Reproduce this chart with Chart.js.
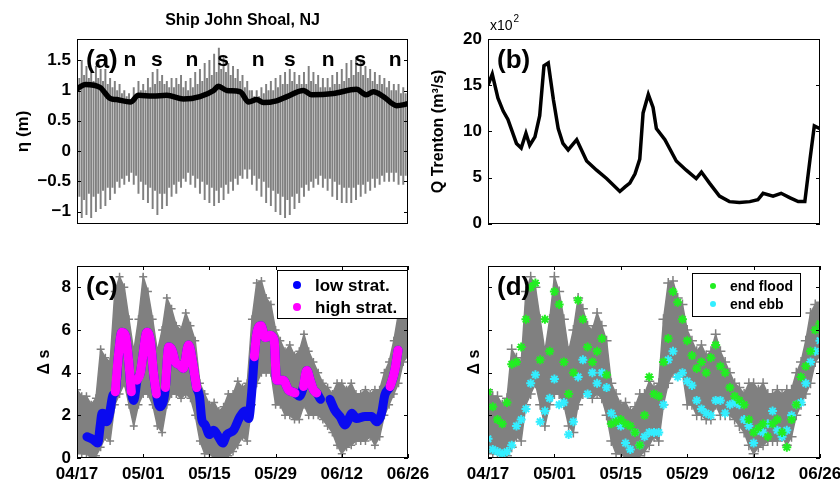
<!DOCTYPE html>
<html>
<head>
<meta charset="utf-8">
<script src="https://cdn.jsdelivr.net/npm/chart.js@4.4.1/dist/chart.umd.min.js"></script>
<style>
  body { margin: 0; background: #fff; width: 840px; height: 480px; overflow: hidden; position: relative; }
  canvas { position: absolute; }
</style>
</head>
<body>
<canvas id="panelA" width="420" height="240" style="left:0;top:0"></canvas>
<canvas id="panelB" width="420" height="240" style="left:420px;top:0"></canvas>
<canvas id="panelC" width="440" height="240" style="left:0;top:240px"></canvas>
<canvas id="panelD" width="420" height="240" style="left:420px;top:240px"></canvas>
<script>
// time axis: days since 04/17
const dateTicks = [0, 14, 28, 42, 56, 70];
const dateLabels = ['04/17', '05/01', '05/15', '05/29', '06/12', '06/26'];

// (a) tidal elevation, two tides per day (A at day, B at day + 0.5)
const tideHiA = [1.45,1.5,1.4,1.3,1.4,1.35,1.35,1.2,1.15,1.1, 1.0,0.95,1.05,1.15,1.1,1.2,1.3,1.35,1.25,1.15,
  1.2,1.2,1.25,1.15,1.2,1.3,1.35,1.45,1.5,1.6, 1.7,1.55,1.45,1.4,1.35,1.25,1.15,1.0,1.0,1.05,
  1.1,1.15,1.2,1.25,1.3,1.35,1.3,1.25,1.3,1.4, 1.3,1.25,1.2,1.2,1.25,1.3,1.35,1.45,1.5,1.55,
  1.5,1.4,1.35,1.3,1.25,1.2,1.15,1.1,1.1,1.05, 1.1];
const tideHiB = [1.2,1.25,1.2,1.15,1.2,1.15,1.1,1.05,1.0,0.95, 0.9,0.85,0.9,1.0,1.0,1.05,1.1,1.15,1.1,1.05,
  1.05,1.1,1.05,1.0,1.05,1.1,1.15,1.2,1.25,1.3, 1.35,1.3,1.25,1.2,1.15,1.05,1.0,0.9,0.9,0.95,
  1.0,1.0,1.05,1.1,1.1,1.15,1.1,1.1,1.1,1.15, 1.1,1.05,1.05,1.05,1.1,1.1,1.15,1.2,1.25,1.3,
  1.25,1.2,1.15,1.1,1.1,1.05,1.0,1.0,0.95,0.95, 0.95];
const tideLoA = [-1.05,-1.1,-1.05,-1.1,-1.0,-0.95,-0.9,-0.8,-0.7,-0.6, -0.55,-0.5,-0.55,-0.7,-0.8,-0.85,-0.95,-1.05,-0.95,-0.9,
  -0.75,-0.7,-0.6,-0.5,-0.55,-0.6,-0.7,-0.8,-0.85,-0.9, -0.85,-0.8,-0.7,-0.65,-0.55,-0.45,-0.45,-0.55,-0.65,-0.75,
  -0.85,-0.9,-1.0,-1.05,-1.1,-1.05,-0.95,-0.85,-0.75,-0.65, -0.6,-0.55,-0.6,-0.65,-0.75,-0.8,-0.85,-0.85,-0.85,-0.8,
  -0.75,-0.7,-0.65,-0.6,-0.55,-0.5,-0.5,-0.5,-0.55,-0.55, -0.5];
const tideLoB = [-0.75,-0.8,-0.7,-0.75,-0.7,-0.65,-0.6,-0.6,-0.5,-0.45, -0.4,-0.35,-0.4,-0.5,-0.55,-0.6,-0.65,-0.7,-0.7,-0.6,
  -0.55,-0.5,-0.45,-0.35,-0.4,-0.45,-0.5,-0.55,-0.6,-0.65, -0.6,-0.55,-0.5,-0.45,-0.4,-0.3,-0.3,-0.4,-0.45,-0.5,
  -0.6,-0.65,-0.7,-0.75,-0.8,-0.75,-0.7,-0.6,-0.55,-0.5, -0.45,-0.4,-0.45,-0.45,-0.5,-0.55,-0.6,-0.6,-0.6,-0.55,
  -0.55,-0.5,-0.45,-0.45,-0.4,-0.35,-0.35,-0.35,-0.4,-0.4, -0.35];
// (a) thick black line
const etaDay = [0,1.8,4.9,7.0,8.4,11.3,13.0,16.0,19.0,22.5,26.0,28.9,29.9,31.7,34.5,36.3,38.0,39.4,42.2,44.4,47.9,49.6,54.2,59.1,61.2,62.7,64.8,67.6,70];
const etaVal = [1.03,1.1,1.05,0.87,0.85,0.81,0.92,0.91,0.92,0.86,0.9,1.0,1.07,1.0,0.98,0.81,0.85,0.8,0.83,0.9,1.0,0.93,0.95,1.02,0.93,0.98,0.9,0.75,0.78];
const etaTicks = [-1, -0.5, 0, 0.5, 1, 1.5];
const phaseDays = [11.2, 16.9, 24.3, 30.9, 38.3, 45.0, 53.1, 59.9, 67.3];
const phaseLabels = ['n', 's', 'n', 's', 'n', 's', 'n', 's', 'n'];

// (b) river discharge at Trenton (x10^2 m3/s)
const qDay = [0,0.9,2.1,3.2,4.2,6.0,7.0,8.0,8.8,9.9,10.9,11.8,12.7,13.8,14.8,15.8,16.9,18.7,20.8,22.9,25,27.8,28.9,29.9,31,32,32.7,33.8,34.8,35.5,37.3,39.7,41.8,43.9,45,46.7,48.8,50.9,53,55.2,56.9,58,60.1,61.8,63.7,65.4,66.8,67.9,68.8,70];
const qVal = [15.0,16.2,13.6,12.2,11.3,8.7,8.2,9.8,8.5,9.4,11.7,17.1,17.4,13.4,10.3,8.7,8.0,9.1,6.8,5.8,4.9,3.5,4.0,4.4,5.4,7.0,12.0,14.0,12.6,10.3,9.1,6.8,5.8,4.9,5.6,4.4,3.0,2.4,2.3,2.4,2.6,3.3,3.0,3.3,2.8,2.4,2.4,7.0,10.6,10.3];
const qTicks = [0, 5, 10, 15, 20];

// (c)/(d) salinity difference, daily range of the raw record
const dsLo = [0.3,0.2,0.2,0.0,0.1,0.5,1.0,0.8,2.5,3.0, 3.5,2.5,1.5,2.5,3.0,3.0,2.5,1.5,1.2,2.5,
  3.0,3.0,2.8,3.0,2.8,2.0,0.8,0.2,0.2,0.0, 0.0,0.0,0.1,0.3,0.6,1.0,0.8,2.5,3.5,4.0,
  4.0,4.0,2.5,2.5,2.0,2.0,1.8,1.8,2.5,2.0, 2.0,2.0,1.8,1.5,1.2,0.6,0.2,0.5,0.6,0.8,
  0.8,0.8,1.0,0.6,1.0,2.0,2.5,3.0,3.5,4.5, 4.8];
const dsHi = [3.2,2.9,2.9,2.5,2.8,5.1,4.7,4.5,7.8,8.5, 8.0,6.5,5.0,6.5,8.5,7.8,6.5,5.0,6.0,7.5,
  7.0,6.2,6.0,6.8,6.2,5.5,3.5,3.0,2.5,2.6, 2.2,2.4,3.0,3.0,3.6,3.3,3.5,6.5,8.2,8.3,
  7.5,7.2,6.0,5.5,5.0,5.3,4.8,5.0,5.8,5.0, 4.5,4.0,3.5,3.3,3.0,3.5,3.5,3.2,3.5,3.0,
  3.0,3.2,3.0,3.2,3.2,4.0,4.5,5.5,6.8,7.2, 7.3];
const dsTicks = [0, 2, 4, 6, 8];
// (c) tidally filtered stratification
const stratDay = [2.1,3.5,4.4,4.9,5.3,6.0,6.3,6.9,7.6,8.1, 8.8,9.5,10.2,10.9,11.5,12.0,12.7,13.4,13.9,14.8,
  15.5,16.2,16.8,17.5,18.3,18.7,19.4,20.1,20.8,21.8, 22.5,23.6,24.5,25.3,25.9,26.4,27.1,28.0,28.9,29.9,
  30.8,31.7,33.1,34.5,35.5,36.3,36.9,37.5,38.0,38.9, 39.8,40.8,41.7,42.2,43.6,44.7,46.1,47.0,47.9,48.6,
  49.3,50.0,50.7,51.5,52.5,53.5,54.5,55.6,56.7,57.4, 58.1,59.1,60.9,62.3,63.4,64.4,65.1,66.2,67.2,67.9];
const stratVal = [1.0,0.85,0.7,1.5,2.1,2.0,1.7,2.1,2.95,3.1, 4.9,5.9,5.75,4.6,3.1,2.7,3.65,4.0,4.75,5.9,
  5.5,3.95,3.0,2.4,2.7,3.3,5.2,5.05,4.5,4.35, 4.2,5.3,4.4,3.3,2.9,1.8,1.55,1.1,1.3,1.0,
  0.7,1.1,1.3,1.95,2.2,1.85,2.95,4.75,5.8,6.2, 5.65,5.75,5.5,3.65,3.65,3.2,3.05,2.9,3.35,4.1,
  3.65,3.2,3.05,2.75,null,2.75,2.25,1.95,1.55,1.8, 2.1,1.85,1.95,1.95,1.7,2.1,2.95,3.35,4.1,5.05];
const stratLimit = 3;
// (d) values at end of flood / end of ebb, one per day
const floodVal = [3.1,2.4,1.8,1.6,2.6,4.4,4.5,5.2,6.5,8.0, 8.2,4.6,6.5,5.0,7.8,7.2,4.5,3.0,4.0,7.4,
  6.5,5.2,4.5,5.0,5.6,3.9,1.6,1.7,1.8,1.6, 1.5,1.2,0.6,2.0,3.8,3.0,2.9,4.5,5.6,7.8,
  7.3,6.5,5.5,4.8,4.2,4.5,4.0,4.7,5.3,4.3, 4.0,3.3,2.9,2.7,2.5,1.8,1.2,1.4,1.6,1.0,
  1.6,1.8,1.2,0.5,1.8,2.5,3.8,4.3,5.0,6.0, 6.3];
const ebbVal = [0.9,0.4,0.3,0.2,0.3,0.6,1.5,1.8,2.3,3.5, 3.9,1.7,2.2,2.8,3.7,2.5,2.6,1.1,1.7,3.8,
  4.6,3.0,4.0,3.5,4.0,3.3,2.1,1.8,1.5,0.7, 0.4,1.2,0.6,1.0,1.2,1.2,1.2,2.5,4.6,5.0,
  3.8,4.0,3.6,3.4,2.7,2.3,2.1,2.0,2.7,2.7, 2.1,2.5,2.6,2.5,1.8,1.5,0.7,1.3,1.2,1.6,
  2.2,1.3,1.0,1.3,2.0,2.5,2.6,3.5,4.5,5.0, 5.5];

const FONT = '"Liberation Sans", Arial, Helvetica, sans-serif';
const GRAY = '#808080';
Chart.defaults.font.family = FONT;
Chart.defaults.font.weight = 'bold';
Chart.defaults.color = '#000';
Chart.defaults.animation = false;

const pts = (xs, ys) => ys.map((v, i) => ({ x: xs[i], y: v }));
const daily = ys => ys.map((v, i) => ({ x: i, y: v }));
const minus = v => String(v).replace('-', '\u2212');

// box, inward ticks, panel letter, extra labels and boxed legend (MATLAB look)
const matlabAxes = {
  id: 'matlabAxes',
  afterDatasetsDraw(chart, args, opts) {
    const { ctx, chartArea: a, scales } = chart;
    ctx.save();
    ctx.strokeStyle = '#000';
    ctx.lineWidth = 1;
    ctx.beginPath();
    if (opts.xTicks) {
      scales.x.ticks.forEach(t => {
        const px = Math.round(scales.x.getPixelForValue(t.value)) + 0.5;
        ctx.moveTo(px, a.bottom); ctx.lineTo(px, a.bottom - 4);
        ctx.moveTo(px, a.top); ctx.lineTo(px, a.top + 4);
      });
    }
    scales.y.ticks.forEach(t => {
      const py = Math.round(scales.y.getPixelForValue(t.value)) + 0.5;
      ctx.moveTo(a.left, py); ctx.lineTo(a.left + 4, py);
      ctx.moveTo(a.right, py); ctx.lineTo(a.right - 4, py);
    });
    ctx.stroke();
    ctx.strokeRect(Math.round(a.left) + 0.5, Math.round(a.top) + 0.5, Math.round(a.width) - 1, Math.round(a.height) - 1);

    ctx.fillStyle = '#000';
    ctx.textAlign = 'left';
    ctx.textBaseline = 'middle';
    ctx.font = 'bold 26px ' + FONT;
    ctx.fillText(opts.letter, a.left + 9, a.top + 22);

    if (opts.marks) {
      ctx.textAlign = 'center';
      ctx.font = 'bold 21px ' + FONT;
      opts.marks.days.forEach((d, i) => {
        ctx.fillText(opts.marks.labels[i], scales.x.getPixelForValue(d), scales.y.getPixelForValue(opts.marks.y));
      });
    }

    if (opts.legend) {
      const L = opts.legend;
      const bx = a.right - L.right - L.w, by = a.top + L.top;
      ctx.fillStyle = '#fff';
      ctx.fillRect(bx, by, L.w, L.h);
      ctx.strokeRect(Math.round(bx) + 0.5, Math.round(by) + 0.5, L.w, L.h);
      ctx.font = 'bold ' + L.size + 'px ' + FONT;
      ctx.textAlign = 'left';
      chart.data.datasets.filter(d => d.legendColor).forEach((d, i) => {
        const y = by + L.row0 + i * L.rowGap;
        ctx.fillStyle = d.legendColor;
        ctx.beginPath();
        ctx.arc(bx + L.dotX, y, L.dotR, 0, Math.PI * 2);
        ctx.fill();
        ctx.fillStyle = '#000';
        ctx.fillText(d.label, bx + L.textX, y + 1);
      });
    }

    if (opts.exponent) {
      ctx.font = 'normal 14px ' + FONT;
      ctx.textAlign = 'left';
      ctx.textBaseline = 'alphabetic';
      ctx.fillText('x10', a.left + 2, a.top - 9);
      const w = ctx.measureText('x10').width;
      ctx.font = 'normal 10px ' + FONT;
      ctx.fillText('2', a.left + 3 + w, a.top - 17);
    }
    ctx.restore();
  }
};

function timeAxis(height, showLabels) {
  return {
    type: 'linear', min: 0, max: 70, offset: false,
    afterBuildTicks: s => { s.ticks = dateTicks.map(v => ({ value: v })); },
    afterFit: s => { s.height = height; s.paddingLeft = 0; s.paddingRight = 0; },
    grid: { display: false, drawTicks: false },
    border: { display: false },
    ticks: {
      display: showLabels, autoSkip: false, maxRotation: 0, padding: 6,
      font: { size: 17, weight: 'bold' },
      callback: v => dateLabels[dateTicks.indexOf(v)]
    }
  };
}

function valueAxis(min, max, tickVals, width, title, titlePad, titleSize, showLabels) {
  return {
    min: min, max: max,
    afterBuildTicks: s => { s.ticks = tickVals.map(v => ({ value: v })); },
    afterFit: s => { s.width = width; },
    grid: { display: false, drawTicks: false },
    border: { display: false },
    ticks: { display: showLabels, padding: 6, font: { size: 17, weight: 'bold' }, callback: minus },
    title: { display: true, text: title, padding: { top: titlePad, bottom: 0 }, font: { size: titleSize, weight: 'bold' } }
  };
}

// (a)
const tideBars = [];
tideHiA.forEach((v, i) => {
  tideBars.push({ x: i, y: [tideLoA[i], v] });
  tideBars.push({ x: i + 0.5, y: [tideLoB[i], tideHiB[i]] });
});
new Chart(document.getElementById('panelA'), {
  type: 'bar',
  data: {
    datasets: [
      { type: 'line', data: pts(etaDay, etaVal), borderColor: '#000', borderWidth: 5.5, pointRadius: 0,
        cubicInterpolationMode: 'monotone', order: 1 },
      { data: tideBars, backgroundColor: GRAY, barThickness: 1.3, order: 2 }
    ]
  },
  options: {
    responsive: false,
    layout: { padding: { left: 0, right: 12, top: 0, bottom: 0 } },
    scales: {
      x: timeAxis(10, false),
      y: valueAxis(-1.2, 1.85, etaTicks, 77, '\u03b7 (m)', 13, 17, true)
    },
    plugins: {
      legend: { display: false },
      tooltip: { enabled: false },
      title: { display: true, fullSize: false, text: 'Ship John Shoal, NJ', font: { size: 16, weight: 'bold' }, padding: { top: 11, bottom: 8.8 } },
      matlabAxes: { letter: '(a)', marks: { days: phaseDays, labels: phaseLabels, y: 1.5 } }
    }
  },
  plugins: [matlabAxes]
});

// (b)
new Chart(document.getElementById('panelB'), {
  type: 'line',
  data: {
    datasets: [{ data: pts(qDay, qVal), borderColor: '#000', borderWidth: 3.5, pointRadius: 0, tension: 0 }]
  },
  options: {
    responsive: false,
    layout: { padding: { left: 0, right: 20, top: 39, bottom: 0 } },
    scales: {
      x: timeAxis(10, false),
      y: valueAxis(0, 20, qTicks, 68, 'Q Trenton (m\u00b3/s)', 9, 16, true)
    },
    plugins: {
      legend: { display: false },
      tooltip: { enabled: false },
      matlabAxes: { letter: '(b)', exponent: true }
    }
  },
  plugins: [matlabAxes]
});

// gray band of the raw record, shared by (c) and (d)
function rangeBand(markerR) {
  return [
    { data: daily(dsHi), borderColor: GRAY, backgroundColor: GRAY, borderWidth: 1.5, fill: '+1',
      pointStyle: 'cross', pointRadius: markerR, pointBorderWidth: 1.5, order: 10 },
    { data: daily(dsLo), borderColor: GRAY, backgroundColor: GRAY, borderWidth: 1.5, fill: false,
      pointStyle: 'cross', pointRadius: markerR, pointBorderWidth: 1.5, order: 11 }
  ];
}

// (c)
const highStrat = stratVal.map(v => (v !== null && v >= stratLimit ? v : null));
new Chart(document.getElementById('panelC'), {
  type: 'line',
  data: {
    datasets: [
      { label: 'low strat.', legendColor: '#0000ff', data: pts(stratDay, stratVal), borderColor: '#0a0af0',
        borderWidth: 9, borderCapStyle: 'round', borderJoinStyle: 'round', pointRadius: 0,
        cubicInterpolationMode: 'monotone', order: 2 },
      { label: 'high strat.', legendColor: '#ff00ff', data: pts(stratDay, highStrat), borderColor: '#ff00ff',
        borderWidth: 9, borderCapStyle: 'round', borderJoinStyle: 'round', pointRadius: 0,
        cubicInterpolationMode: 'monotone', order: 1 },
      ...rangeBand(4)
    ]
  },
  options: {
    responsive: false,
    layout: { padding: { left: 0, right: 32, top: 26, bottom: 0 } },
    scales: {
      x: timeAxis(22, true),
      y: valueAxis(0, 9, dsTicks, 77, '\u0394 s', 35, 16, true)
    },
    plugins: {
      legend: { display: false },
      tooltip: { enabled: false },
      matlabAxes: { letter: '(c)', xTicks: true,
        legend: { right: 1, top: 4, w: 130, h: 48, size: 17, dotX: 20, dotR: 4, textX: 38, row0: 15, rowGap: 22 } }
    }
  },
  plugins: [matlabAxes]
});

// (d)
new Chart(document.getElementById('panelD'), {
  type: 'line',
  data: {
    datasets: [
      { label: 'end flood', legendColor: '#22ee22', data: daily(floodVal), showLine: false, pointStyle: 'star',
        pointRadius: 4.5, pointBorderWidth: 2, borderColor: '#22ee22', backgroundColor: '#22ee22', order: 1 },
      { label: 'end ebb', legendColor: '#33eeff', data: daily(ebbVal), showLine: false, pointStyle: 'star',
        pointRadius: 4.5, pointBorderWidth: 2, borderColor: '#33eeff', backgroundColor: '#33eeff', order: 2 },
      ...rangeBand(5)
    ]
  },
  options: {
    responsive: false,
    layout: { padding: { left: 0, right: 20, top: 26, bottom: 0 } },
    scales: {
      x: timeAxis(22, true),
      y: valueAxis(0, 9, dsTicks, 68, '\u0394 s', 45, 16, false)
    },
    plugins: {
      legend: { display: false },
      tooltip: { enabled: false },
      matlabAxes: { letter: '(d)', xTicks: true,
        legend: { right: 20, top: 7, w: 108, h: 43, size: 14, dotX: 21, dotR: 3, textX: 38, row0: 13, rowGap: 18 } }
    }
  },
  plugins: [matlabAxes]
});
</script>
</body>
</html>
